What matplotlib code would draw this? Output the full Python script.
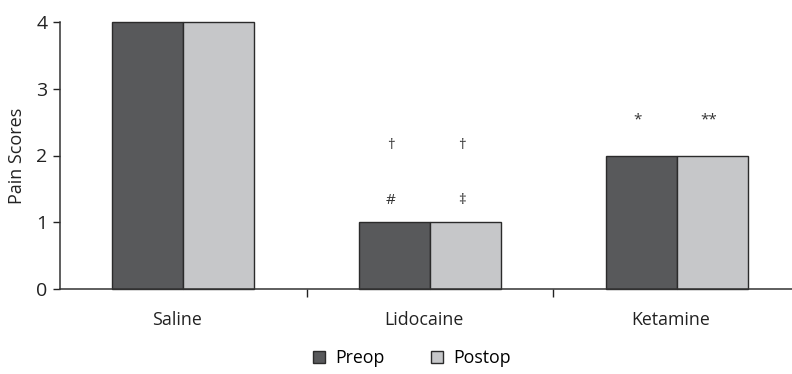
import numpy as np
import matplotlib.pyplot as plt
from matplotlib.patches import Patch

plt.rcParams["font.family"] = ["Open Sans", "DejaVu Sans"]

groups = ["Saline", "Lidocaine", "Ketamine"]
preop = [4, 1, 2]
postop = [4, 1, 2]
# significance marks: (group, series, y position, text)
marks = [
    (1, 0, 1.33, "#"), (1, 0, 2.15, "\u2020"),
    (1, 1, 1.33, "\u2021"), (1, 1, 2.15, "\u2020"),
    (2, 0, 2.53, "*"), (2, 1, 2.53, "**"),
]

c_pre = "#58595b"
c_post = "#c6c7c9"
edge = "#2b2b2b"

fig = plt.figure(figsize=(7.92, 3.74), dpi=100)
W, H = 792, 374
ax = fig.add_axes([60 / W, 85 / H, 732 / W, 267 / H])

x = np.arange(len(groups))
bw = 0.288
ax.bar(x - bw / 2, preop, bw, color=c_pre, edgecolor=edge, linewidth=1, clip_on=False)
ax.bar(x + bw / 2, postop, bw, color=c_post, edgecolor=edge, linewidth=1, clip_on=False)

for g, s, y, t in marks:
    xx = g - bw / 2 if s == 0 else g + bw / 2
    ax.text(xx - 0.015, y, t, ha="center", va="center", fontsize=11, color="#333333")

ax.set_xlim(-0.5, -0.5 + 732 / 246.7)
ax.set_ylim(0, 4)
ax.set_yticks([0, 1, 2, 3, 4])
ax.tick_params(axis="y", length=5, width=1, pad=4, labelsize=14, colors="#222222")
ax.set_xticks([0.5, 1.5])
ax.set_xticklabels([])
ax.tick_params(axis="x", which="major", length=6, width=1, color="#222222")
ax.set_xticks(x - 0.025, minor=True)
ax.set_xticklabels(groups, minor=True)
ax.tick_params(axis="x", which="minor", length=0, pad=16, labelsize=12.8, colors="#222222")

for s in ["top", "right"]:
    ax.spines[s].set_visible(False)
for s in ["left", "bottom"]:
    ax.spines[s].set_color("#333333")
    ax.spines[s].set_linewidth(1.1)

ax.set_ylabel("Pain Scores", fontsize=13, color="#222222")
ax.yaxis.set_label_coords(-(60 - 26) / 732, 0.5)

handles = [Patch(facecolor=c_pre, edgecolor=edge, label="Preop"),
           Patch(facecolor=c_post, edgecolor=edge, label="Postop")]
fig.legend(handles=handles, loc="center", bbox_to_anchor=(412 / W, 1 - 358 / H),
           ncol=2, frameon=False, fontsize=12.8, handlelength=0.65, handleheight=0.65,
           handletextpad=0.6, columnspacing=2.6)

fig.savefig("out.png", dpi=100)
